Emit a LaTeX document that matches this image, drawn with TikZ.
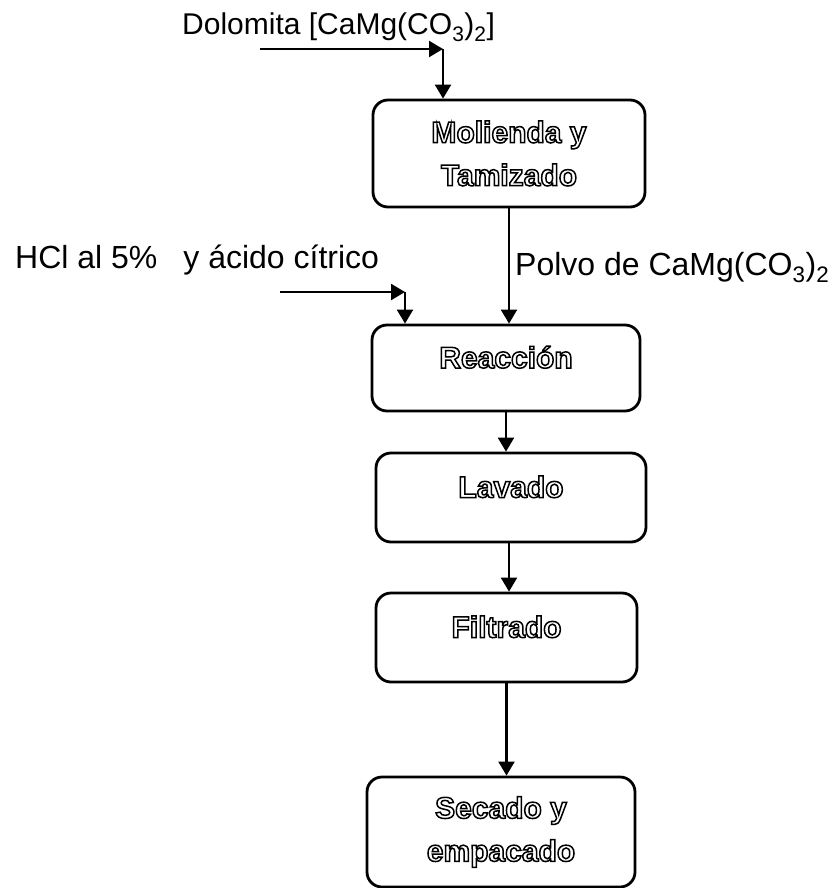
\documentclass[tikz,border=0pt]{standalone}
\usepackage{fontspec}
\setmainfont{Liberation Sans}
\usetikzlibrary{arrows.meta,positioning}

% hollow (stroked) letters for the box texts
\newcommand{\hollow}[1]{\special{pdf:code 1 Tr 1.5 w}#1\special{pdf:code 0 Tr}}

\begin{document}
\begin{tikzpicture}[x=1pt,y=-1pt,
	proc/.style={draw, line width=2.8pt, rounded corners=15pt, align=center, inner sep=0pt},
	oneline/.style={font=\fontsize{30}{36}\selectfont\bfseries, text height=22pt, text depth=22pt},
	twoline/.style={font=\fontsize{30}{43}\selectfont\bfseries},
	flow/.style={line width=2.2pt, -{Triangle[width=16pt,length=14pt]}},
	lbl/.style={font=\fontsize{32}{36}\selectfont, inner sep=0pt, anchor=base west}]

				\useasboundingbox (0,0) rectangle (832,888);

				% Process boxes
				\node[proc, twoline, minimum width=272pt, minimum height=107pt] (mol) at (509,153.5) {\hollow{Molienda y}\\\hollow{Tamizado}};
				\node[proc, oneline, minimum width=268pt, minimum height=86pt] (reac) at (506,368) {\hollow{Reacción}};
				\node[proc, oneline, minimum width=270pt, minimum height=89pt] (lav) at (511,497.5) {\hollow{Lavado}};
				\node[proc, oneline, minimum width=261pt, minimum height=89pt] (fil) at (506.5,637.5) {\hollow{Filtrado}};
				\node[proc, twoline, minimum width=268pt, minimum height=110pt] (sec) at (501,832) {\hollow{Secado y}\\\hollow{empacado}};

				% Inputs
				\node[lbl, font=\fontsize{30}{34}\selectfont] (dol) at (182,35) {Dolomita [CaMg(CO\textsubscript{3})\textsubscript{2}]};
				\node[lbl] (hcl) at (15,268) {HCl al 5\%\hspace{26pt}y ácido cítrico};
				\node[lbl] (polvo) at (515,275) {Polvo de CaMg(CO\textsubscript{3})\textsubscript{2}};

				\coordinate (dolin) at (260,49);
				\coordinate (dolturn) at (443,49);
				\coordinate (hclin) at (280,292);
				\coordinate (hclturn) at (405,292);

				% Feed arrows
				\draw[flow] (dolin) -- (dolturn);
				\draw[flow] (dolturn) -- (dolturn |- mol.north);
				\draw[flow] (hclin) -- (hclturn);
				\draw[flow] (hclturn) -- (hclturn |- reac.north);

				% Main line
				\draw[flow] (mol.south) -- (mol.south |- reac.north);
				\draw[flow] (reac.south) -- (reac.south |- lav.north);
				\draw[flow] ([xshift=-2pt]lav.south) -- ([xshift=-2pt]lav.south |- fil.north);
				\draw[flow] (fil.south) -- (fil.south |- sec.north);

\end{tikzpicture}
\end{document}
